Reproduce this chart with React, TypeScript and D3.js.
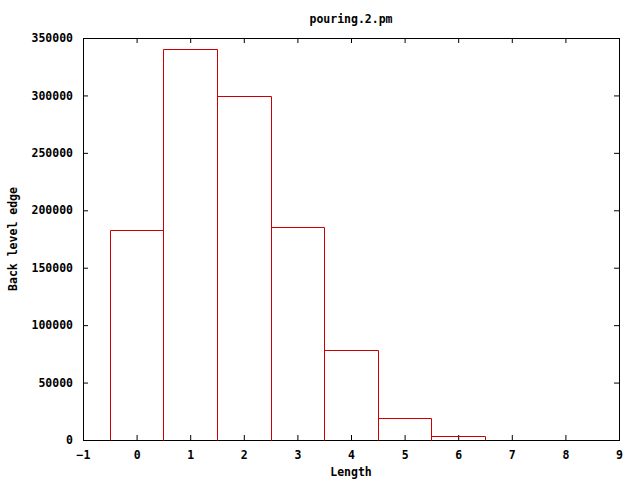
import React, { useRef, useEffect } from 'react';
import * as d3 from 'd3';

// histogram of back level edge lengths
const lengths = [0, 1, 2, 3, 4, 5, 6];
const counts = [182800, 340100, 299200, 185300, 78400, 19200, 3300];
const xTicks = [-1, 0, 1, 2, 3, 4, 5, 6, 7, 8, 9];
const yTicks = [0, 50000, 100000, 150000, 200000, 250000, 300000, 350000];

const W = 640;
const H = 480;
const margin = { top: 38, right: 21, bottom: 40, left: 83 };
const font = '"DejaVu Sans Mono", "Liberation Mono", monospace';
const fontSize = '11.5px';

export default function App() {
  const svgRef = useRef<SVGSVGElement>(null);

  useEffect(() => {
    const svg = d3.select(svgRef.current);
    svg.selectAll('*').remove();

    const x = d3.scaleLinear().domain([-1, 9]).range([margin.left, W - margin.right]);
    const y = d3.scaleLinear().domain([0, 350000]).range([H - margin.bottom, margin.top]);
    const px = (v: number) => Math.round(v) + 0.5;

    const g = svg.append('g');

    // axes, ticks inward and mirrored
    const tick = 5;
    const axB = d3.axisBottom(x).tickValues(xTicks).tickSize(-tick).tickPadding(11).tickFormat(d3.format('d'));
    const axT = d3.axisTop(x).tickValues(xTicks).tickSize(-tick).tickFormat(() => '');
    const axL = d3.axisLeft(y).tickValues(yTicks).tickSize(-tick).tickPadding(10).tickFormat(d3.format('d'));
    const axR = d3.axisRight(y).tickValues(yTicks).tickSize(-tick).tickFormat(() => '');

    const style = (sel: any) => {
      sel.select('.domain').remove();
      sel.selectAll('.tick line').attr('stroke', '#000');
      sel.selectAll('.tick text')
        .attr('fill', '#000')
        .style('font-family', font)
        .style('font-size', fontSize)
        .style('font-weight', 'bold');
    };

    g.append('g').attr('transform', `translate(0,${H - margin.bottom})`).call(axB).call(style);
    g.append('g').attr('transform', `translate(0,${margin.top})`).call(axT).call(style);
    g.append('g').attr('transform', `translate(${margin.left},0)`).call(axL).call(style);
    g.append('g').attr('transform', `translate(${W - margin.right},0)`).call(axR).call(style);

    // frame
    g.append('rect')
      .attr('x', px(margin.left))
      .attr('y', px(margin.top))
      .attr('width', W - margin.left - margin.right)
      .attr('height', H - margin.top - margin.bottom)
      .attr('fill', 'none')
      .attr('stroke', '#000');

    // bars, drawn as outlines
    const bars = g.append('g');
    lengths.forEach((d, i) => {
      const x0 = px(x(d - 0.5));
      const x1 = px(x(d + 0.5));
      const y0 = px(y(0));
      const y1 = px(y(counts[i]));
      bars.append('path')
        .attr('d', `M${x0},${y0}V${y1}H${x1}V${y0}`)
        .attr('fill', 'none')
        .attr('stroke', 'rgb(204,0,0)')
        .attr('stroke-width', 1);
    });

    const label = (txt: string) =>
      g.append('text')
        .attr('text-anchor', 'middle')
        .style('font-family', font)
        .style('font-size', fontSize)
        .style('font-weight', 'bold')
        .attr('fill', '#000')
        .text(txt);

    const cx = (margin.left + W - margin.right) / 2;
    label('pouring.2.pm').attr('x', cx).attr('y', 23);
    label('Length').attr('x', cx).attr('y', 476);
    label('Back level edge')
      .attr('transform', `translate(17,${(margin.top + H - margin.bottom) / 2}) rotate(-90)`);
  }, []);

  return (
    <svg ref={svgRef} width={W} height={H}
      style={{ position: 'absolute', left: 0, top: 0, background: '#fff' }} />
  );
}
